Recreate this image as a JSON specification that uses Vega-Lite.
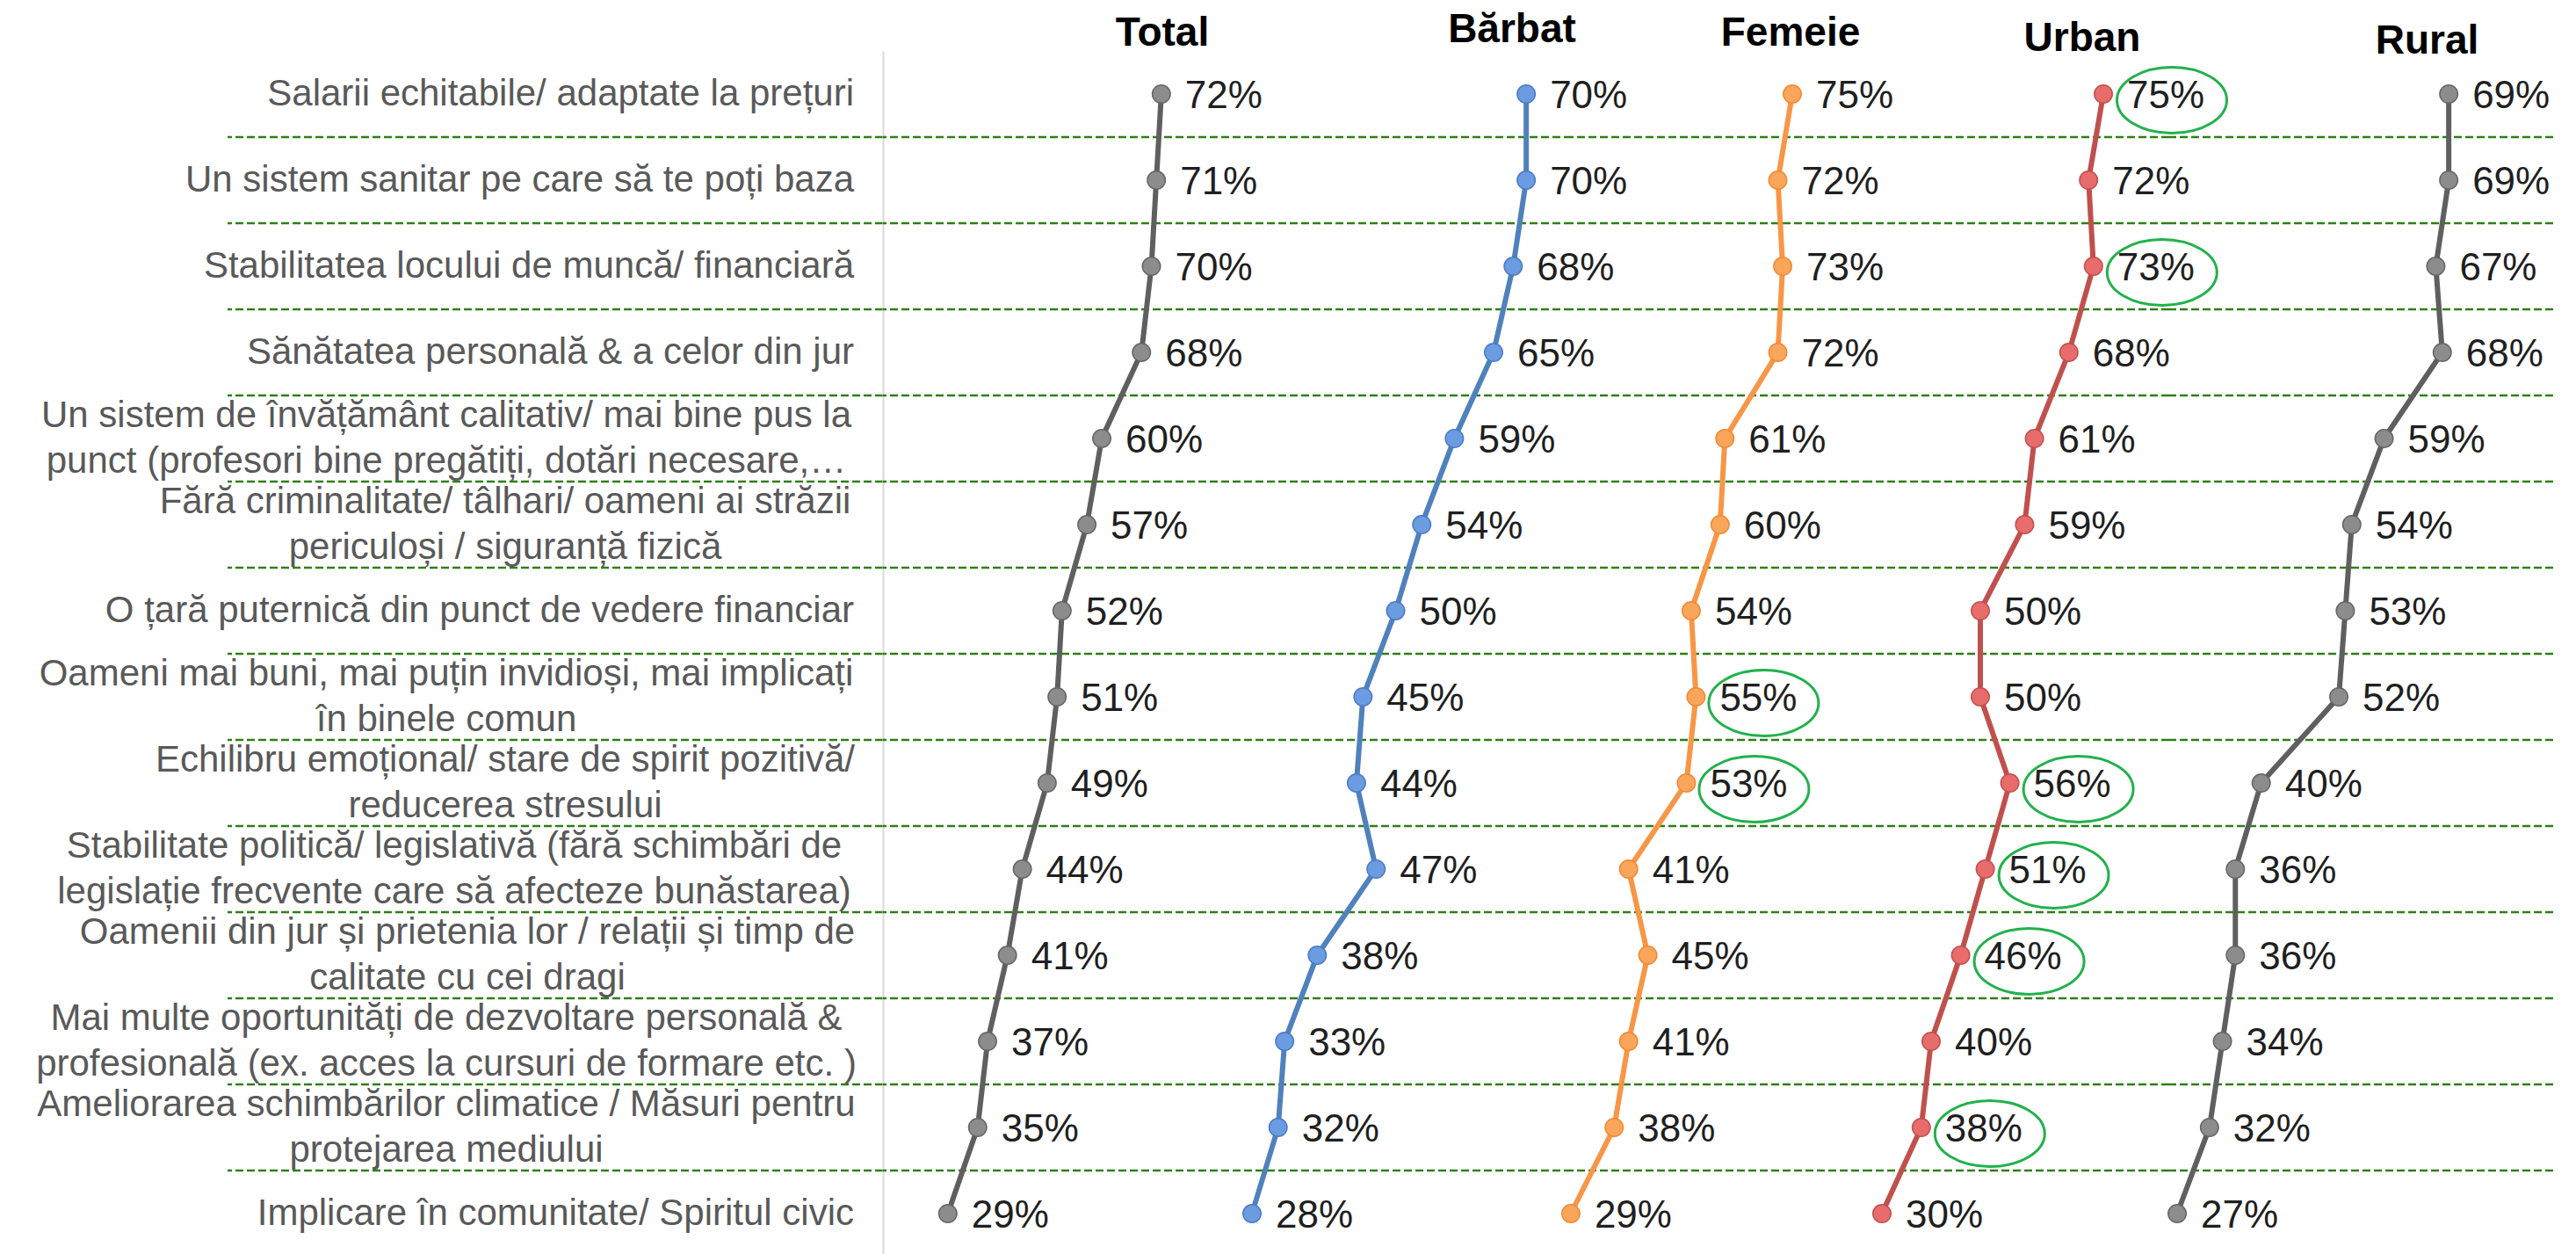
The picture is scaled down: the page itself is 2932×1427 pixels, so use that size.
{
  "$schema": "https://vega.github.io/schema/vega-lite/v6.json",
  "background": "white",
  "padding": {"left": 35, "top": 11, "right": 0, "bottom": 0},
  "config": {"view": {"stroke": null}, "font": "Liberation Sans"},
  "datasets": {
    "cats": [
      {"k": 1, "label": "Salarii echitabile/ adaptate la prețuri"},
      {"k": 2, "label": "Un sistem sanitar pe care să te poți baza"},
      {"k": 3, "label": "Stabilitatea locului de muncă/ financiară"},
      {"k": 4, "label": "Sănătatea personală & a celor din jur"},
      {"k": 5, "label": "Un sistem de învățământ calitativ/ mai bine pus la|punct (profesori bine pregătiți, dotări necesare,…"},
      {"k": 6, "label": "Fără criminalitate/ tâlhari/ oameni ai străzii|periculoși / siguranță fizică"},
      {"k": 7, "label": "O țară puternică din punct de vedere financiar"},
      {"k": 8, "label": "Oameni mai buni, mai puțin invidioși, mai implicați|în binele comun"},
      {"k": 9, "label": "Echilibru emoțional/ stare de spirit pozitivă/|reducerea stresului"},
      {"k": 10, "label": "Stabilitate politică/ legislativă (fără schimbări de|legislație frecvente care să afecteze bunăstarea)"},
      {"k": 11, "label": "Oamenii din jur și prietenia lor / relații și timp de|calitate cu cei dragi"},
      {"k": 12, "label": "Mai multe oportunități de dezvoltare personală &|profesională (ex. acces la cursuri de formare  etc. )"},
      {"k": 13, "label": "Ameliorarea schimbărilor climatice / Măsuri pentru|protejarea mediului"},
      {"k": 14, "label": "Implicare în comunitate/ Spiritul civic"}
    ],
    "vals": [
      {"k": 1, "group": "Total", "pct": 0.72}, {"k": 2, "group": "Total", "pct": 0.71}, {"k": 3, "group": "Total", "pct": 0.70}, {"k": 4, "group": "Total", "pct": 0.68}, {"k": 5, "group": "Total", "pct": 0.60}, {"k": 6, "group": "Total", "pct": 0.57}, {"k": 7, "group": "Total", "pct": 0.52}, {"k": 8, "group": "Total", "pct": 0.51}, {"k": 9, "group": "Total", "pct": 0.49}, {"k": 10, "group": "Total", "pct": 0.44}, {"k": 11, "group": "Total", "pct": 0.41}, {"k": 12, "group": "Total", "pct": 0.37}, {"k": 13, "group": "Total", "pct": 0.35}, {"k": 14, "group": "Total", "pct": 0.29},
      {"k": 1, "group": "Bărbat", "pct": 0.70}, {"k": 2, "group": "Bărbat", "pct": 0.70}, {"k": 3, "group": "Bărbat", "pct": 0.68}, {"k": 4, "group": "Bărbat", "pct": 0.65}, {"k": 5, "group": "Bărbat", "pct": 0.59}, {"k": 6, "group": "Bărbat", "pct": 0.54}, {"k": 7, "group": "Bărbat", "pct": 0.50}, {"k": 8, "group": "Bărbat", "pct": 0.45}, {"k": 9, "group": "Bărbat", "pct": 0.44}, {"k": 10, "group": "Bărbat", "pct": 0.47}, {"k": 11, "group": "Bărbat", "pct": 0.38}, {"k": 12, "group": "Bărbat", "pct": 0.33}, {"k": 13, "group": "Bărbat", "pct": 0.32}, {"k": 14, "group": "Bărbat", "pct": 0.28},
      {"k": 1, "group": "Femeie", "pct": 0.75}, {"k": 2, "group": "Femeie", "pct": 0.72}, {"k": 3, "group": "Femeie", "pct": 0.73}, {"k": 4, "group": "Femeie", "pct": 0.72}, {"k": 5, "group": "Femeie", "pct": 0.61}, {"k": 6, "group": "Femeie", "pct": 0.60}, {"k": 7, "group": "Femeie", "pct": 0.54}, {"k": 8, "group": "Femeie", "pct": 0.55, "hl": true}, {"k": 9, "group": "Femeie", "pct": 0.53, "hl": true}, {"k": 10, "group": "Femeie", "pct": 0.41}, {"k": 11, "group": "Femeie", "pct": 0.45}, {"k": 12, "group": "Femeie", "pct": 0.41}, {"k": 13, "group": "Femeie", "pct": 0.38}, {"k": 14, "group": "Femeie", "pct": 0.29},
      {"k": 1, "group": "Urban", "pct": 0.75, "hl": true}, {"k": 2, "group": "Urban", "pct": 0.72}, {"k": 3, "group": "Urban", "pct": 0.73, "hl": true}, {"k": 4, "group": "Urban", "pct": 0.68}, {"k": 5, "group": "Urban", "pct": 0.61}, {"k": 6, "group": "Urban", "pct": 0.59}, {"k": 7, "group": "Urban", "pct": 0.50}, {"k": 8, "group": "Urban", "pct": 0.50}, {"k": 9, "group": "Urban", "pct": 0.56, "hl": true}, {"k": 10, "group": "Urban", "pct": 0.51, "hl": true}, {"k": 11, "group": "Urban", "pct": 0.46, "hl": true}, {"k": 12, "group": "Urban", "pct": 0.40}, {"k": 13, "group": "Urban", "pct": 0.38, "hl": true}, {"k": 14, "group": "Urban", "pct": 0.30},
      {"k": 1, "group": "Rural", "pct": 0.69}, {"k": 2, "group": "Rural", "pct": 0.69}, {"k": 3, "group": "Rural", "pct": 0.67}, {"k": 4, "group": "Rural", "pct": 0.68}, {"k": 5, "group": "Rural", "pct": 0.59}, {"k": 6, "group": "Rural", "pct": 0.54}, {"k": 7, "group": "Rural", "pct": 0.53}, {"k": 8, "group": "Rural", "pct": 0.52}, {"k": 9, "group": "Rural", "pct": 0.40}, {"k": 10, "group": "Rural", "pct": 0.36}, {"k": 11, "group": "Rural", "pct": 0.36}, {"k": 12, "group": "Rural", "pct": 0.34}, {"k": 13, "group": "Rural", "pct": 0.32}, {"k": 14, "group": "Rural", "pct": 0.27}
    ]
  },
  "spacing": 0,
  "bounds": "flush",
  "resolve": {"scale": {"x": "independent", "y": "independent"}},
  "hconcat": [
    {
      "width": 746, "height": 1372,
      "data": {"name": "cats"},
      "encoding": {"y": {"field": "k", "type": "ordinal", "scale": {"type": "band", "domain": [1,2,3,4,5,6,7,8,9,10,11,12,13,14], "paddingInner": 0, "paddingOuter": 0}, "axis": null}},
      "layer": [
        {"transform": [{"filter": "datum.k < 14"}], "mark": {"type": "rule", "color": "#2f7f17", "strokeWidth": 2.5, "strokeDash": [9, 4]}, "encoding": {"y": {"field": "k", "type": "ordinal", "bandPosition": 1, "scale": {"type": "band", "domain": [1,2,3,4,5,6,7,8,9,10,11,12,13,14], "paddingInner": 0, "paddingOuter": 0}, "axis": null}}},
        {"transform": [{"filter": "indexof(datum.label, '|') < 0"}], "mark": {"type": "text", "align": "right", "baseline": "middle", "dx": -33, "fontSize": 42, "color": "#595959"}, "encoding": {"x": {"value": "width"}, "text": {"field": "label"}}},
        {"transform": [{"filter": {"field": "k", "oneOf": [5, 8, 12, 13]}}], "mark": {"type": "text", "align": "center", "baseline": "middle", "dx": -497, "dy": -26, "fontSize": 42, "color": "#595959", "lineBreak": "|", "lineHeight": 52}, "encoding": {"x": {"value": "width"}, "text": {"field": "label"}}},
        {"transform": [{"filter": {"field": "k", "oneOf": [10]}}], "mark": {"type": "text", "align": "center", "baseline": "middle", "dx": -488, "dy": -26, "fontSize": 42, "color": "#595959", "lineBreak": "|", "lineHeight": 52}, "encoding": {"x": {"value": "width"}, "text": {"field": "label"}}},
        {"transform": [{"filter": {"field": "k", "oneOf": [11]}}], "mark": {"type": "text", "align": "center", "baseline": "middle", "dx": -473, "dy": -26, "fontSize": 42, "color": "#595959", "lineBreak": "|", "lineHeight": 52}, "encoding": {"x": {"value": "width"}, "text": {"field": "label"}}},
        {"transform": [{"filter": {"field": "k", "oneOf": [6, 9]}}], "mark": {"type": "text", "align": "center", "baseline": "middle", "dx": -430, "dy": -26, "fontSize": 42, "color": "#595959", "lineBreak": "|", "lineHeight": 52}, "encoding": {"x": {"value": "width"}, "text": {"field": "label"}}}
      ]
    },
    {
      "width": 394, "height": 1372,
      "data": {"name": "vals"},
      "transform": [{"filter": {"field": "group", "equal": "Total"}}],
      "title": {"text": "Total", "fontSize": 46, "fontWeight": "bold", "font": "Liberation Sans", "color": "#000000", "anchor": "middle", "frame": "group", "dx": 121, "dy": 43, "offset": 3, "baseline": "alphabetic"},
      "encoding": {"y": {"field": "k", "type": "ordinal", "scale": {"type": "band", "domain": [1,2,3,4,5,6,7,8,9,10,11,12,13,14], "paddingInner": 0, "paddingOuter": 0}, "axis": {"labels": false, "ticks": false, "title": null, "grid": false, "domainColor": "#d9d9d9", "domainWidth": 2}}},
      "layer": [
        {"transform": [{"filter": "datum.k < 14"}], "mark": {"type": "rule", "color": "#2f7f17", "strokeWidth": 2.5, "strokeDash": [9, 4]}, "encoding": {"y": {"field": "k", "type": "ordinal", "bandPosition": 1, "scale": {"type": "band", "domain": [1,2,3,4,5,6,7,8,9,10,11,12,13,14], "paddingInner": 0, "paddingOuter": 0}, "axis": {"labels": false, "ticks": false, "title": null, "grid": false, "domainColor": "#d9d9d9", "domainWidth": 2}}}},
        {"mark": {"type": "line", "color": "#5f5f5f", "strokeWidth": 6}, "encoding": {"x": {"field": "pct", "type": "quantitative", "scale": {"domain": [0.1593, 0.8566], "nice": false, "zero": false}, "axis": null}, "order": {"value": null}}},
        {"mark": {"type": "point", "filled": true, "fill": "#8c8c8c", "stroke": "#666666", "strokeWidth": 1.5, "size": 420, "opacity": 1}, "encoding": {"x": {"field": "pct", "type": "quantitative", "scale": {"domain": [0.1593, 0.8566], "nice": false, "zero": false}, "axis": null}}},
        {"mark": {"type": "text", "align": "left", "baseline": "middle", "dx": 27, "dy": 3, "fontSize": 44, "color": "#1f1f1f"}, "encoding": {"x": {"field": "pct", "type": "quantitative", "scale": {"domain": [0.1593, 0.8566], "nice": false, "zero": false}, "axis": null}, "text": {"field": "pct", "format": ".0%"}}}
      ]
    },
    {
      "width": 390, "height": 1372,
      "data": {"name": "vals"},
      "transform": [{"filter": {"field": "group", "equal": "Bărbat"}}],
      "title": {"text": "Bărbat", "fontSize": 46, "fontWeight": "bold", "font": "Liberation Sans", "color": "#000000", "anchor": "middle", "frame": "group", "dx": 127, "dy": 39, "offset": 3, "baseline": "alphabetic"},
      "encoding": {"y": {"field": "k", "type": "ordinal", "scale": {"type": "band", "domain": [1,2,3,4,5,6,7,8,9,10,11,12,13,14], "paddingInner": 0, "paddingOuter": 0}, "axis": null}},
      "layer": [
        {"transform": [{"filter": "datum.k < 14"}], "mark": {"type": "rule", "color": "#2f7f17", "strokeWidth": 2.5, "strokeDash": [9, 4]}, "encoding": {"y": {"field": "k", "type": "ordinal", "bandPosition": 1, "scale": {"type": "band", "domain": [1,2,3,4,5,6,7,8,9,10,11,12,13,14], "paddingInner": 0, "paddingOuter": 0}, "axis": null}}},
        {"mark": {"type": "line", "color": "#4f81bd", "strokeWidth": 6}, "encoding": {"x": {"field": "pct", "type": "quantitative", "scale": {"domain": [0.2450, 0.7698], "nice": false, "zero": false}, "axis": null}, "order": {"value": null}}},
        {"mark": {"type": "point", "filled": true, "fill": "#6b9be0", "stroke": "#4a7cc4", "strokeWidth": 1.5, "size": 420, "opacity": 1}, "encoding": {"x": {"field": "pct", "type": "quantitative", "scale": {"domain": [0.2450, 0.7698], "nice": false, "zero": false}, "axis": null}}},
        {"mark": {"type": "text", "align": "left", "baseline": "middle", "dx": 27, "dy": 3, "fontSize": 44, "color": "#1f1f1f"}, "encoding": {"x": {"field": "pct", "type": "quantitative", "scale": {"domain": [0.2450, 0.7698], "nice": false, "zero": false}, "axis": null}, "text": {"field": "pct", "format": ".0%"}}}
      ]
    },
    {
      "width": 340, "height": 1372,
      "data": {"name": "vals"},
      "transform": [{"filter": {"field": "group", "equal": "Femeie"}}],
      "title": {"text": "Femeie", "fontSize": 46, "fontWeight": "bold", "font": "Liberation Sans", "color": "#000000", "anchor": "middle", "frame": "group", "dx": 79, "dy": 43, "offset": 3, "baseline": "alphabetic"},
      "encoding": {"y": {"field": "k", "type": "ordinal", "scale": {"type": "band", "domain": [1,2,3,4,5,6,7,8,9,10,11,12,13,14], "paddingInner": 0, "paddingOuter": 0}, "axis": null}},
      "layer": [
        {"transform": [{"filter": "datum.k < 14"}], "mark": {"type": "rule", "color": "#2f7f17", "strokeWidth": 2.5, "strokeDash": [9, 4]}, "encoding": {"y": {"field": "k", "type": "ordinal", "bandPosition": 1, "scale": {"type": "band", "domain": [1,2,3,4,5,6,7,8,9,10,11,12,13,14], "paddingInner": 0, "paddingOuter": 0}, "axis": null}}},
        {"mark": {"type": "line", "color": "#f79646", "strokeWidth": 6}, "encoding": {"x": {"field": "pct", "type": "quantitative", "scale": {"domain": [0.2920, 0.9124], "nice": false, "zero": false}, "axis": null}, "order": {"value": null}}},
        {"mark": {"type": "point", "filled": true, "fill": "#f9a55a", "stroke": "#f08a35", "strokeWidth": 1.5, "size": 420, "opacity": 1}, "encoding": {"x": {"field": "pct", "type": "quantitative", "scale": {"domain": [0.2920, 0.9124], "nice": false, "zero": false}, "axis": null}}},
        {"mark": {"type": "text", "align": "left", "baseline": "middle", "dx": 27, "dy": 3, "fontSize": 44, "color": "#1f1f1f"}, "encoding": {"x": {"field": "pct", "type": "quantitative", "scale": {"domain": [0.2920, 0.9124], "nice": false, "zero": false}, "axis": null}, "text": {"field": "pct", "format": ".0%"}}},
        {"transform": [{"filter": "datum.hl"}], "mark": {"type": "point", "shape": "M-1,0A1,0.6,0,1,1,1,0A1,0.6,0,1,1,-1,0Z", "size": 15625, "filled": false, "stroke": "#22b14c", "strokeWidth": 3, "xOffset": 77, "yOffset": 7, "opacity": 1}, "encoding": {"x": {"field": "pct", "type": "quantitative", "scale": {"domain": [0.2920, 0.9124], "nice": false, "zero": false}, "axis": null}}}
      ]
    },
    {
      "width": 340, "height": 1372,
      "data": {"name": "vals"},
      "transform": [{"filter": {"field": "group", "equal": "Urban"}}],
      "title": {"text": "Urban", "fontSize": 46, "fontWeight": "bold", "font": "Liberation Sans", "color": "#000000", "anchor": "middle", "frame": "group", "dx": 71, "dy": 49, "offset": 3, "baseline": "alphabetic"},
      "encoding": {"y": {"field": "k", "type": "ordinal", "scale": {"type": "band", "domain": [1,2,3,4,5,6,7,8,9,10,11,12,13,14], "paddingInner": 0, "paddingOuter": 0}, "axis": null}},
      "layer": [
        {"transform": [{"filter": "datum.k < 14"}], "mark": {"type": "rule", "color": "#2f7f17", "strokeWidth": 2.5, "strokeDash": [9, 4]}, "encoding": {"y": {"field": "k", "type": "ordinal", "bandPosition": 1, "scale": {"type": "band", "domain": [1,2,3,4,5,6,7,8,9,10,11,12,13,14], "paddingInner": 0, "paddingOuter": 0}, "axis": null}}},
        {"mark": {"type": "line", "color": "#c0504d", "strokeWidth": 6}, "encoding": {"x": {"field": "pct", "type": "quantitative", "scale": {"domain": [0.2768, 0.8839], "nice": false, "zero": false}, "axis": null}, "order": {"value": null}}},
        {"mark": {"type": "point", "filled": true, "fill": "#e86c6c", "stroke": "#c0504d", "strokeWidth": 1.5, "size": 420, "opacity": 1}, "encoding": {"x": {"field": "pct", "type": "quantitative", "scale": {"domain": [0.2768, 0.8839], "nice": false, "zero": false}, "axis": null}}},
        {"mark": {"type": "text", "align": "left", "baseline": "middle", "dx": 27, "dy": 3, "fontSize": 44, "color": "#1f1f1f"}, "encoding": {"x": {"field": "pct", "type": "quantitative", "scale": {"domain": [0.2768, 0.8839], "nice": false, "zero": false}, "axis": null}, "text": {"field": "pct", "format": ".0%"}}},
        {"transform": [{"filter": "datum.hl"}], "mark": {"type": "point", "shape": "M-1,0A1,0.6,0,1,1,1,0A1,0.6,0,1,1,-1,0Z", "size": 15625, "filled": false, "stroke": "#22b14c", "strokeWidth": 3, "xOffset": 78, "yOffset": 7, "opacity": 1}, "encoding": {"x": {"field": "pct", "type": "quantitative", "scale": {"domain": [0.2768, 0.8839], "nice": false, "zero": false}, "axis": null}}}
      ]
    },
    {
      "width": 437, "height": 1372,
      "data": {"name": "vals"},
      "transform": [{"filter": {"field": "group", "equal": "Rural"}}],
      "title": {"text": "Rural", "fontSize": 46, "fontWeight": "bold", "font": "Liberation Sans", "color": "#000000", "anchor": "middle", "frame": "group", "dx": 75, "dy": 52, "offset": 3, "baseline": "alphabetic"},
      "encoding": {"y": {"field": "k", "type": "ordinal", "scale": {"type": "band", "domain": [1,2,3,4,5,6,7,8,9,10,11,12,13,14], "paddingInner": 0, "paddingOuter": 0}, "axis": null}},
      "layer": [
        {"transform": [{"filter": "datum.k < 14"}], "mark": {"type": "rule", "color": "#2f7f17", "strokeWidth": 2.5, "strokeDash": [9, 4]}, "encoding": {"y": {"field": "k", "type": "ordinal", "bandPosition": 1, "scale": {"type": "band", "domain": [1,2,3,4,5,6,7,8,9,10,11,12,13,14], "paddingInner": 0, "paddingOuter": 0}, "axis": null}}},
        {"mark": {"type": "line", "color": "#5f5f5f", "strokeWidth": 6}, "encoding": {"x": {"field": "pct", "type": "quantitative", "scale": {"domain": [0.2577, 0.8515], "nice": false, "zero": false}, "axis": null}, "order": {"value": null}}},
        {"mark": {"type": "point", "filled": true, "fill": "#8c8c8c", "stroke": "#666666", "strokeWidth": 1.5, "size": 420, "opacity": 1}, "encoding": {"x": {"field": "pct", "type": "quantitative", "scale": {"domain": [0.2577, 0.8515], "nice": false, "zero": false}, "axis": null}}},
        {"mark": {"type": "text", "align": "left", "baseline": "middle", "dx": 27, "dy": 3, "fontSize": 44, "color": "#1f1f1f"}, "encoding": {"x": {"field": "pct", "type": "quantitative", "scale": {"domain": [0.2577, 0.8515], "nice": false, "zero": false}, "axis": null}, "text": {"field": "pct", "format": ".0%"}}}
      ]
    }
  ]
}
